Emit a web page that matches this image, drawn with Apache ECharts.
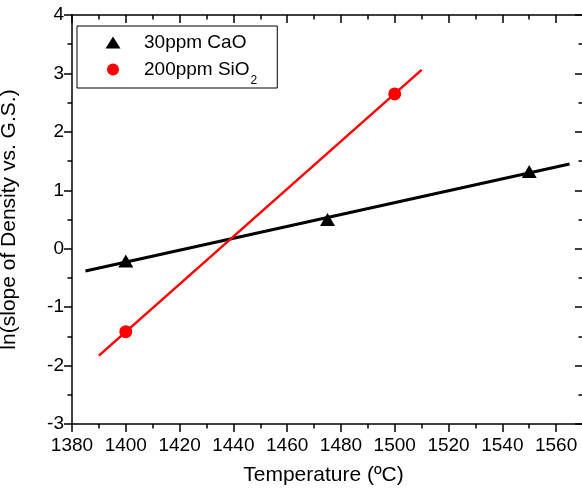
<!DOCTYPE html>
<html>
<head>
<meta charset="utf-8">
<script src="https://cdn.jsdelivr.net/npm/echarts@6/dist/echarts.min.js"></script>
<style>
  html, body { margin: 0; padding: 0; background: #fff; overflow: hidden; }
  #chart { width: 590px; height: 489px; }
</style>
</head>
<body>
<div id="chart"></div>
<script>
// Measured points
const caoTemp = [1400, 1475, 1550];
const caoLn = [-0.21, 0.50, 1.32];
const sio2Temp = [1400, 1500];
const sio2Ln = [-1.42, 2.65];

// Linear fit lines (end points)
const caoFitTemp = [1385, 1565];
const caoFitLn = [-0.38, 1.45];
const sio2FitTemp = [1390, 1510];
const sio2FitLn = [-1.83, 3.06];

const seriesNames = ['30ppm CaO', '200ppm SiO2'];
const xTitle = 'Temperature (ºC)';
const yTitle = 'ln(slope of Density vs. G.S.)';

const FONT = '"Liberation Sans", Arial, sans-serif';
const pairs = (xs, ys) => xs.map((x, i) => [x, ys[i]]);
const plain = v => String(v);

const axisLineStyle = { color: '#000', width: 1.5 };

const chart = echarts.init(document.getElementById('chart'), null, { renderer: 'canvas' });

chart.setOption({
  animation: false,
  backgroundColor: '#fff',
  grid: { left: 72, top: 15, right: 7, bottom: 65, containLabel: false, outerBoundsMode: 'none' },
  legend: {
    orient: 'vertical',
    left: 77,
    top: 26,
    padding: [7, 20, 1, 28.5],
    itemWidth: 15,
    itemHeight: 12,
    itemGap: 0,
    borderColor: '#000',
    borderWidth: 1,
    data: [
      { name: seriesNames[0], icon: 'triangle' },
      { name: seriesNames[1], icon: 'circle' }
    ],
    formatter: name => name === seriesNames[1]
      ? '{t|200ppm SiO}{s|2}'
      : '{t|' + name + '}',
    textStyle: {
      color: '#000',
      fontFamily: FONT,
      rich: {
        t: { fontSize: 19, lineHeight: 20, fontFamily: FONT, color: '#000', padding: [0, 0, 0, 18.5] },
        s: { fontSize: 12, lineHeight: 12, fontFamily: FONT, color: '#000', padding: [23, 0, 0, 1] }
      }
    }
  },
  xAxis: [
    {
      type: 'value', position: 'bottom', min: 1380, max: 1570, interval: 20,
      name: xTitle, nameLocation: 'middle', nameGap: 41,
      nameTextStyle: { fontFamily: FONT, fontSize: 21, color: '#000', padding: [0, 8, 0, 0] },
      axisLine: { onZero: false, lineStyle: axisLineStyle },
      axisTick: { inside: false, length: 8, lineStyle: axisLineStyle },
      minorTick: { show: true, splitNumber: 2, length: 4.5, lineStyle: axisLineStyle },
      axisLabel: { fontFamily: FONT, fontSize: 19, color: '#000', margin: 12, showMaxLabel: false, formatter: plain },
      splitLine: { show: false }
    },
    {
      type: 'value', position: 'top', min: 1380, max: 1570, interval: 20,
      axisLine: { onZero: false, lineStyle: axisLineStyle },
      axisTick: { inside: true, length: 8, lineStyle: axisLineStyle },
      minorTick: { show: true, splitNumber: 2, length: 4.5, lineStyle: axisLineStyle },
      axisLabel: { show: false },
      splitLine: { show: false }
    }
  ],
  yAxis: [
    {
      type: 'value', position: 'left', min: -3, max: 4, interval: 1,
      name: yTitle, nameLocation: 'middle', nameGap: 52,
      nameTextStyle: { fontFamily: FONT, fontSize: 21, color: '#000' },
      axisLine: { onZero: false, lineStyle: axisLineStyle },
      axisTick: { inside: false, length: 8, lineStyle: axisLineStyle },
      minorTick: { show: true, splitNumber: 2, length: 4.5, lineStyle: axisLineStyle },
      axisLabel: { fontFamily: FONT, fontSize: 19, color: '#000', margin: 8, formatter: plain },
      splitLine: { show: false }
    },
    {
      type: 'value', position: 'right', min: -3, max: 4, interval: 1,
      axisLine: { onZero: false, lineStyle: axisLineStyle },
      axisTick: { inside: true, length: 8, lineStyle: axisLineStyle },
      minorTick: { show: true, splitNumber: 2, length: 4.5, lineStyle: axisLineStyle },
      axisLabel: { show: false },
      splitLine: { show: false }
    }
  ],
  series: [
    {
      name: 'CaO fit', type: 'line', xAxisIndex: 0, yAxisIndex: 0,
      data: pairs(caoFitTemp, caoFitLn), symbol: 'none',
      lineStyle: { color: '#000', width: 3 }, z: 2
    },
    {
      name: 'SiO2 fit', type: 'line', xAxisIndex: 0, yAxisIndex: 0,
      data: pairs(sio2FitTemp, sio2FitLn), symbol: 'none',
      lineStyle: { color: '#ff0000', width: 2.5 }, z: 2
    },
    {
      name: seriesNames[0], type: 'scatter', xAxisIndex: 0, yAxisIndex: 0,
      data: pairs(caoTemp, caoLn), symbol: 'triangle', symbolSize: [15, 13],
      itemStyle: { color: '#000', opacity: 1 }, z: 3
    },
    {
      name: seriesNames[1], type: 'scatter', xAxisIndex: 0, yAxisIndex: 0,
      data: pairs(sio2Temp, sio2Ln), symbol: 'circle', symbolSize: 13,
      itemStyle: { color: '#ff0000', opacity: 1 }, z: 3
    }
  ]
});
</script>
</body>
</html>
